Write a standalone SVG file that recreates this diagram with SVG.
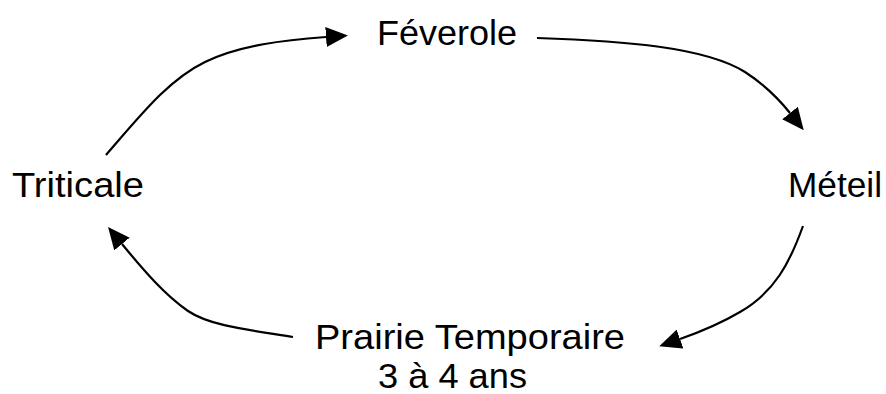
<svg xmlns="http://www.w3.org/2000/svg" width="886" height="394" viewBox="0 0 886 394">
<style>
  text { font-family: "Liberation Sans", Arial, sans-serif; font-size: 35px; fill: #000; }
  .c { fill: none; stroke: #000; stroke-width: 2.2; }
</style>
<defs>
  <marker id="ah" viewBox="0 0 22 20" refX="0" refY="10" markerWidth="22" markerHeight="20" markerUnits="userSpaceOnUse" orient="auto">
    <path d="M0,0 L22,10 L0,20 Z" fill="#000"/>
  </marker>
</defs>
<rect width="886" height="394" fill="#fff"/>
<g id="connectors">
  <path class="c" d="M106,155 C140,116 168,80 205,62 C240,45 285,40 326,37" marker-end="url(#ah)"/>
  <path class="c" d="M537,38 C625,41 705,47 745,72 C765,85 778,98 790,113" marker-end="url(#ah)"/>
  <path class="c" d="M803,226 C790,262 775,292 740,312 C718,325 700,332 680,339" marker-end="url(#ah)"/>
  <path class="c" d="M293,337 C250,330 210,326 188,311 C165,295 145,272 122,244" marker-end="url(#ah)"/>
</g>
<g id="feverole"><text x="377" y="45" textLength="140" lengthAdjust="spacingAndGlyphs">Féverole</text></g>
<g id="meteil"><text x="788" y="197" textLength="94" lengthAdjust="spacingAndGlyphs">Méteil</text></g>
<g id="triticale"><text x="12" y="197" textLength="132" lengthAdjust="spacingAndGlyphs">Triticale</text></g>
<g id="prairie">
  <text x="315" y="349" textLength="310" lengthAdjust="spacingAndGlyphs">Prairie Temporaire</text>
  <text x="378" y="388" textLength="149" lengthAdjust="spacingAndGlyphs">3 à 4 ans</text>
</g>
</svg>
